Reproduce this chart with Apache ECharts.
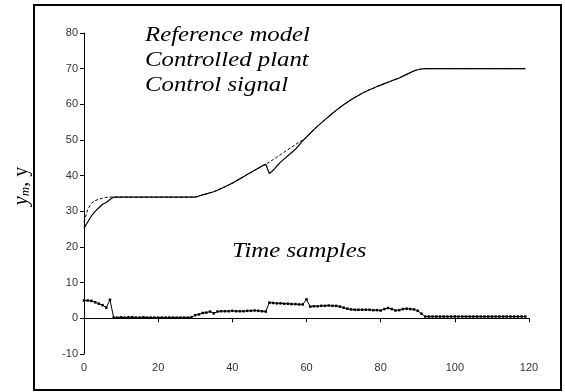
<!DOCTYPE html>
<html>
<head>
<meta charset="utf-8">
<script src="https://cdn.jsdelivr.net/npm/echarts@6/dist/echarts.min.js"></script>
<style>html,body{margin:0;padding:0;background:#fff;}#c{width:565px;height:392px;}</style>
</head>
<body>
<div id="c"></div>
<script>
// Time samples 0..119
var samples = [];
for (var i = 0; i < 120; i++) samples.push(i);

var plant = [25.3,27,28.7,30,31,32,32.5,33.3,34,34,
34,34,34,34,34,34,34,34,34,34,
34,34,34,34,34,34,34,34,34,34,
34,34.3,34.6,34.9,35.2,35.5,35.9,36.4,36.9,37.4,
37.9,38.5,39.1,39.7,40.3,40.9,41.5,42.1,42.7,43.2,
40.6,41.5,42.7,43.8,44.7,45.6,46.5,47.4,48.6,49.8,
50.8,51.9,52.9,53.9,54.8,55.7,56.6,57.5,58.3,59.1,
59.9,60.6,61.3,61.9,62.5,63.1,63.6,64.1,64.5,65,
65.4,65.8,66.2,66.6,67,67.4,67.9,68.4,68.9,69.4,
69.7,69.9,70,70,70,70,70,70,70,70,
70,70,70,70,70,70,70,70,70,70,
70,70,70,70,70,70,70,70,70,70];

var reference = [27,30.5,32.3,33,33.4,33.7,33.9,34,34,34,
34,34,34,34,34,34,34,34,34,34,
34,34,34,34,34,34,34,34,34,34,
34,34.3,34.6,34.9,35.2,35.5,35.9,36.4,36.9,37.4,
37.9,38.5,39.1,39.7,40.3,40.9,41.5,42.1,42.7,43.2,
43.8,44.5,45.2,45.9,46.6,47.3,48.0,48.7,49.4,50.0,
50.8,51.9,52.9,53.9,54.8,55.7,56.6,57.5,58.3,59.1,
59.9,60.6,61.3,61.9,62.5,63.1,63.6,64.1,64.5,65,
65.4,65.8,66.2,66.6,67,67.4,67.9,68.4,68.9,69.4,
69.7,69.9,70,70,70,70,70,70,70,70,
70,70,70,70,70,70,70,70,70,70,
70,70,70,70,70,70,70,70,70,70];

var control = [5.0,5.0,4.9,4.5,4.1,3.7,3.0,5.2,0.2,0.2,
0.3,0.2,0.3,0.3,0.2,0.2,0.3,0.2,0.2,0.2,
0.2,0.2,0.2,0.2,0.2,0.2,0.2,0.2,0.2,0.3,
0.9,1.1,1.5,1.6,1.9,1.4,1.9,2.0,2.0,2.0,
2.1,2.0,2.0,2.0,2.1,2.1,2.2,2.1,2.0,1.9,
4.4,4.3,4.2,4.2,4.1,4.1,4.0,4.0,3.9,3.9,
5.3,3.3,3.4,3.4,3.5,3.5,3.6,3.5,3.5,3.3,
3.0,2.7,2.5,2.4,2.4,2.4,2.4,2.4,2.3,2.3,
2.2,2.6,2.9,2.6,2.2,2.3,2.6,2.7,2.6,2.5,
2.1,1.3,0.5,0.5,0.5,0.5,0.5,0.5,0.5,0.5,
0.5,0.5,0.5,0.5,0.5,0.5,0.5,0.5,0.5,0.5,
0.5,0.5,0.5,0.5,0.5,0.5,0.5,0.5,0.5,0.5];

var legendLabels = ['Reference model', 'Controlled plant', 'Control signal'];
var xTitle = 'Time samples';

function pairs(arr) {
  return samples.map(function (x, i) { return [x, arr[i]]; });
}

var chart = echarts.init(document.getElementById('c'), null, {renderer: 'canvas'});
var serifIt = {fontFamily: '"Liberation Serif", "DejaVu Serif", serif', fontStyle: 'italic', fontSize: 20, fill: '#000'};

function bigText(str, x, y) {
  return {
    type: 'text', x: x, y: y, scaleX: 1.24, z: 10,
    style: Object.assign({text: str, textAlign: 'left', textVerticalAlign: 'middle'}, serifIt)
  };
}

var option = {
  animation: false,
  backgroundColor: '#fff',
  grid: {left: 84, right: 36, top: 33, bottom: 38, containLabel: false},
  xAxis: {
    type: 'value', min: 0, max: 120, interval: 20,
    axisLine: {onZero: true, lineStyle: {color: '#000', width: 1}},
    axisTick: {show: true, length: 4, lineStyle: {color: '#000'}},
    axisLabel: {color: '#333', fontSize: 11, fontFamily: '"Liberation Sans", Arial, sans-serif', margin: 8},
    splitLine: {show: false}
  },
  yAxis: {
    type: 'value', min: -10, max: 80, interval: 10,
    axisLine: {show: true, onZero: false, lineStyle: {color: '#000', width: 1}},
    axisTick: {show: true, length: 4, lineStyle: {color: '#000'}},
    axisLabel: {color: '#333', fontSize: 11, fontFamily: '"Liberation Sans", Arial, sans-serif', margin: 6},
    splitLine: {show: false}
  },
  series: [
    {
      name: legendLabels[0], type: 'line', data: pairs(reference),
      showSymbol: false, symbol: 'none',
      lineStyle: {color: '#000', width: 1, type: [3, 2]}, z: 2
    },
    {
      name: legendLabels[1], type: 'line', data: pairs(plant),
      showSymbol: false, symbol: 'none',
      lineStyle: {color: '#000', width: 1.2}, z: 3
    },
    {
      name: legendLabels[2], type: 'line', data: pairs(control),
      symbol: 'rect', symbolSize: 2.5, showAllSymbol: true,
      itemStyle: {color: '#000'},
      lineStyle: {color: '#000', width: 1}, z: 4
    }
  ],
  graphic: [
    {type: 'rect', shape: {x: 34, y: 5, width: 527, height: 385}, style: {fill: 'none', stroke: '#000', lineWidth: 2}, z: 0},
    bigText(legendLabels[0], 145, 36),
    bigText(legendLabels[1], 145, 61),
    bigText(legendLabels[2], 145, 86),
    bigText(xTitle, 232, 252),
    {
      type: 'text', x: 22, y: 186, rotation: Math.PI / 2, z: 10,
      style: {
        text: '{a|y}{b|m}{c|, y}',
        textAlign: 'center', textVerticalAlign: 'middle',
        rich: {
          a: {fontFamily: '"Liberation Serif", serif', fontStyle: 'italic', fontSize: 20, fill: '#000'},
          b: {fontFamily: '"Liberation Serif", serif', fontStyle: 'italic', fontSize: 13, fill: '#000', verticalAlign: 'bottom', padding: [7, 0, 0, 0]},
          c: {fontFamily: '"Liberation Serif", serif', fontSize: 20, fill: '#000'}
        }
      }
    }
  ]
};
chart.setOption(option);
</script>
</body>
</html>
